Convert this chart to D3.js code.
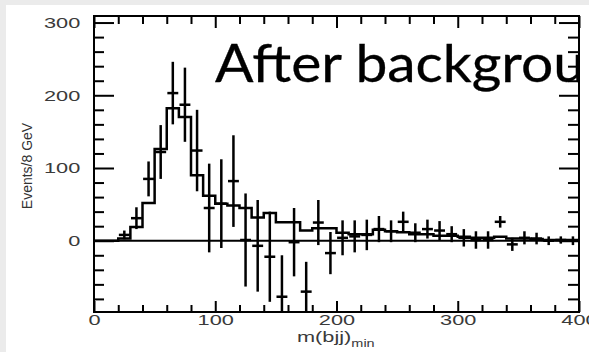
<!DOCTYPE html>
<html><head><meta charset="utf-8">
<script src="https://cdn.jsdelivr.net/npm/d3@7"></script>
<style>
html,body{margin:0;padding:0;background:#ebebeb;overflow:hidden;}
svg{display:block;}
</style></head><body>
<svg id="chart" width="589" height="352"></svg>
<script>
// Expected signal histogram: lower bin edges (GeV) and contents
const binLow = [0,10,20,30,40,50,60,70,80,90,100,110,120,130,140,150,160,170,180,190,
                200,210,220,230,240,250,260,270,280,290,300,310,320,330,340,350,360,370,380,390];
const binWidth = 10;
const expected = [0,0,3,19,52,126,182,170,90,62,51,48.5,45,32,38,25.5,25.5,14,17,17,
                  11,9,9,15,13,11.5,9,9,7,7,5.5,4,4,5.5,3,3,2.5,1,1,1];

// Background-subtracted data points: bin centres, counts and errors
const dataX = [25,35,45,55,65,75,85,95,105,115,125,135,145,155,165,175,185,195,
               205,215,225,235,245,255,265,275,285,295,305,315,325,335,345,355,365,375,385,395];
const dataY = [8,31,85,122,203,187,124,45,51,82,1,-7,-22,-77,-2,-70,25,-17,
               4,6,8,16,13,26,11,16,14,9,4,1,1,26,-5,4,3,0,1,0];
const dataErr = [6,15,24,37,43,51,56,61,61,63,64,63,62,57,47,41,31,29,
                 24,22,21,18,15,14,13,13,13,11,12,12,12,8,9,9,8,6,5,6];

// Axis ticks
const xMajor = [0,100,200,300,400];
const xMinor = [20,40,60,80,120,140,160,180,220,240,260,280,320,340,360,380];
const yMajor = [0,100,200,300];
const yMinor = [-80,-60,-40,-20,20,40,60,80,120,140,160,180,220,240,260,280];

const svg = d3.select("#chart");
const W = 589, H = 352;
const L = 94, R = 579, T = 16, B = 312;

// page panel
svg.append("rect").attr("x", 6).attr("y", 5).attr("width", W - 6).attr("height", H - 5).attr("fill", "#fff");

const x = d3.scaleLinear().domain([0, 400]).range([L, R]);
const y = d3.scaleLinear().domain([-98, 309]).range([B, T]);

const defs = svg.append("defs");
defs.append("clipPath").attr("id", "plotClip")
  .append("rect").attr("x", L).attr("y", T).attr("width", R - L).attr("height", B - T);
defs.append("clipPath").attr("id", "titleClip")
  .append("rect").attr("x", 0).attr("y", 0).attr("width", 580).attr("height", H);

const labelFont = "'Liberation Sans', Arial, Helvetica, sans-serif";
const stretch = 1.45;

function tickAxis(axis, values, size, tx, ty) {
  const g = svg.append("g").attr("transform", `translate(${tx},${ty})`)
    .call(axis.tickValues(values).tickSize(size).tickFormat(""));
  g.select(".domain").remove();
  g.selectAll(".tick line").attr("stroke", "#000").attr("stroke-width", 2);
  g.selectAll(".tick text").remove();
  return g;
}

// tick marks on all four sides (pointing inward)
tickAxis(d3.axisBottom(x), xMajor, -11, 0, B);
tickAxis(d3.axisBottom(x), xMinor, -7, 0, B);
tickAxis(d3.axisTop(x), xMajor, -12, 0, T);
tickAxis(d3.axisTop(x), xMinor, -8, 0, T);
tickAxis(d3.axisLeft(y), yMajor, -20, L, 0);
tickAxis(d3.axisLeft(y), yMinor, -10, L, 0);
tickAxis(d3.axisRight(y), yMajor, -20, R, 0);
tickAxis(d3.axisRight(y), yMinor, -11, R, 0);

// tick labels (wide digits)
const gxl = svg.append("g").attr("transform", `translate(0,${B})`)
  .call(d3.axisBottom(x).tickValues(xMajor).tickSize(0).tickPadding(2).tickFormat(d3.format("d")));
gxl.select(".domain").remove();
gxl.selectAll("text").attr("font-family", labelFont).attr("font-size", 15).attr("fill", "#3a3a3a")
  .attr("transform", `scale(${stretch},1)`);

const gyl = svg.append("g").attr("transform", `translate(${L},0)`)
  .call(d3.axisLeft(y).tickValues(yMajor).tickSize(0).tickPadding(9.5).tickFormat(d3.format("d")));
gyl.select(".domain").remove();
gyl.selectAll("text").attr("font-family", labelFont).attr("font-size", 15).attr("fill", "#3a3a3a")
  .attr("transform", `scale(${stretch},1)`);

// zero line
svg.append("line").attr("x1", L).attr("x2", R).attr("y1", y(0)).attr("y2", y(0))
  .attr("stroke", "#000").attr("stroke-width", 2);

const plot = svg.append("g").attr("clip-path", "url(#plotClip)");

// expected histogram as a step line
const steps = binLow.map((b, i) => [b, expected[i]]);
steps.push([binLow[binLow.length - 1] + binWidth, expected[expected.length - 1]]);
plot.append("path")
  .attr("d", d3.line().x(d => x(d[0])).y(d => y(d[1])).curve(d3.curveStepAfter)(steps))
  .attr("fill", "none").attr("stroke", "#000").attr("stroke-width", 2.5);

// data points with error bars
const pts = plot.append("g").selectAll("g").data(dataX.map((c, i) => ({c, v: dataY[i], e: dataErr[i]})))
  .join("g");
pts.append("line")
  .attr("x1", d => x(d.c)).attr("x2", d => x(d.c))
  .attr("y1", d => y(d.v + d.e)).attr("y2", d => y(d.v - d.e))
  .attr("stroke", "#000").attr("stroke-width", 2.5);
pts.append("line")
  .attr("x1", d => x(d.c - 4.5)).attr("x2", d => x(d.c + 4.5))
  .attr("y1", d => y(d.v)).attr("y2", d => y(d.v))
  .attr("stroke", "#000").attr("stroke-width", 2.5);

// frame
svg.append("rect").attr("x", L).attr("y", T).attr("width", R - L).attr("height", B - T)
  .attr("fill", "none").attr("stroke", "#000").attr("stroke-width", 2);

// axis titles
svg.append("text")
  .attr("transform", "translate(32,166) rotate(-90)")
  .attr("text-anchor", "middle")
  .attr("font-family", labelFont).attr("font-size", 14).attr("fill", "#333")
  .text("Events/8 GeV");

const xt = svg.append("text")
  .attr("transform", `translate(297,341.5) scale(${stretch},1)`)
  .attr("font-family", labelFont).attr("font-size", 15).attr("fill", "#3a3a3a");
xt.append("tspan").text("m(bjj)");
xt.append("tspan").attr("font-size", 10).attr("dy", 5).text("min");

// overlay caption
svg.append("text")
  .attr("clip-path", "url(#titleClip)")
  .attr("x", 215).attr("y", 82)
  .attr("font-family", "'Comic Sans MS', Lato, 'Open Sans', sans-serif")
  .attr("font-size", 52).attr("fill", "#000")
  .attr("stroke", "#000").attr("stroke-width", 0.3)
  .attr("textLength", 370).attr("lengthAdjust", "spacingAndGlyphs")
  .text("After backgrou");
</script>
</body></html>
